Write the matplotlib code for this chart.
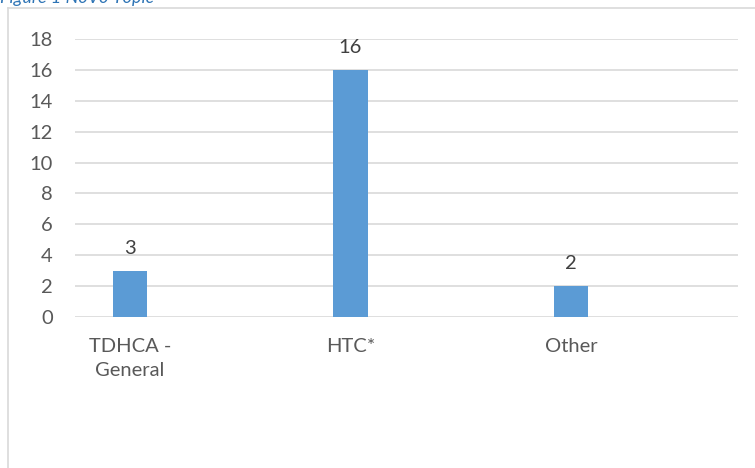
import matplotlib
matplotlib.use("Agg")
import matplotlib.pyplot as plt
from matplotlib.lines import Line2D

categories = ["TDHCA -\nGeneral", "HTC*", "Other"]
counts = [3, 16, 2]
y_ticks = [0, 2, 4, 6, 8, 10, 12, 14, 16, 18]

plt.rcParams["font.family"] = ["Lato", "DejaVu Sans"]
text_color = "#595959"
bar_color = "#5B9BD5"
grid_color = "#D9D9D9"
fs = 14.5

fig = plt.figure(figsize=(7.55, 4.68), dpi=100)
ax = fig.add_axes([75 / 755, (468 - 317) / 468, (738 - 75) / 755, (317 - 39) / 468])

x = list(range(len(categories)))
ax.bar(x, counts, width=0.155, color=bar_color, zorder=3)

for xi, v in zip(x, counts):
    ax.annotate(str(v), (xi, v), xytext=(0, 10), textcoords="offset points",
                ha="center", va="bottom", fontsize=fs, color="#404040")

ax.set_xlim(-0.249, 2.757)
ax.set_ylim(0, 18)
ax.set_yticks(y_ticks)
ax.set_yticklabels([str(t) for t in y_ticks])
ax.set_xticks(x)
ax.set_xticklabels(categories, fontsize=fs, color=text_color, linespacing=1.5)
ax.tick_params(axis="x", length=0, pad=15)
ax.tick_params(axis="y", length=0, pad=16, labelsize=fs, labelcolor=text_color)
ax.yaxis.grid(True, color=grid_color, linewidth=1.2, zorder=0)
for s in ax.spines.values():
    s.set_visible(False)

# Chart frame (left and top edges)
fig.add_artist(Line2D([8 / 755, 8 / 755], [0, 1 - 8 / 468], transform=fig.transFigure,
                      color="#D9D9D9", linewidth=1.2))
fig.add_artist(Line2D([8 / 755, 1], [1 - 8 / 468, 1 - 8 / 468], transform=fig.transFigure,
                      color="#D9D9D9", linewidth=1.2))

# Caption above the chart
fig.text(0.0, 1 - 3 / 468, "Figure 1 NoVo Topic", ha="left", va="baseline",
         fontsize=13, style="italic", color="#2E74B5")

fig.savefig("out.png", dpi=100)
